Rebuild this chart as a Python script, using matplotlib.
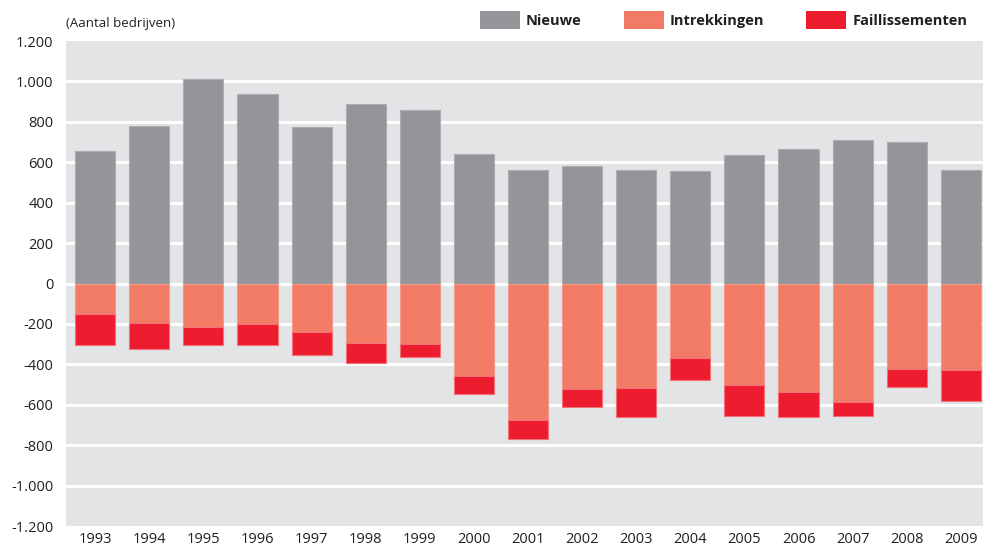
import numpy as np
import matplotlib.pyplot as plt
from matplotlib.patches import Patch

plt.rcParams['font.family'] = ['Open Sans', 'DejaVu Sans']

# ---- Data (aantal bedrijven) ----
years = ["1993", "1994", "1995", "1996", "1997", "1998", "1999", "2000", "2001",
         "2002", "2003", "2004", "2005", "2006", "2007", "2008", "2009"]
nieuwe = [655, 782, 1012, 937, 776, 886, 860, 640, 563,
          580, 563, 558, 637, 665, 708, 702, 562]
intrekkingen = [-152, -196, -216, -202, -241, -294, -300, -457, -675,
                -522, -516, -368, -500, -538, -587, -424, -428]
faillissementen = [-154, -126, -88, -104, -113, -100, -66, -90, -93,
                   -91, -143, -109, -154, -124, -67, -90, -154]

yticks = [-1200, -1000, -800, -600, -400, -200, 0, 200, 400, 600, 800, 1000, 1200]
ytick_labels = ["-1.200", "-1.000", "-800", "-600", "-400", "-200", "0",
                "200", "400", "600", "800", "1.000", "1.200"]

GRAY = "#939598"
SALMON = "#F27B66"
RED = "#ED1C2E"
BG = "#E3E4E6"

fig = plt.figure(figsize=(9.83, 5.48), dpi=100)
ax = fig.add_axes([0.0671, 0.0401, 0.9329, 0.885])
ax.set_facecolor(BG)

x = np.arange(len(years))
w = 0.74
ax.bar(x, nieuwe, w, color=GRAY, edgecolor="#ABADB0", linewidth=0.8, zorder=3)
ax.bar(x, intrekkingen, w, color=SALMON, edgecolor="#F59A8A", linewidth=0.8, zorder=3)
ax.bar(x, faillissementen, w, bottom=intrekkingen, color=RED, edgecolor="#F1707A",
       linewidth=0.8, zorder=3)

ax.set_xlim(-0.54, len(years) - 1 + 0.41)
ax.set_ylim(-1200, 1200)
ax.set_yticks(yticks)
ax.set_yticklabels(ytick_labels)
ax.set_xticks(x)
ax.set_xticklabels(years)
for y in yticks[1:-1]:
    ax.axhline(y, color="white", linewidth=2.2, zorder=1)

for s in ax.spines.values():
    s.set_visible(False)
ax.tick_params(axis="both", length=0, labelsize=10.5, colors="#231F20")
ax.tick_params(axis="y", pad=9)
ax.tick_params(axis="x", pad=4)

fig.text(0.0671, 0.958, "(Aantal bedrijven)", fontsize=9.5, color="#231F20",
         va="center", ha="left")

handles = [Patch(facecolor=GRAY, edgecolor="none", label="Nieuwe"),
           Patch(facecolor=SALMON, edgecolor="none", label="Intrekkingen"),
           Patch(facecolor=RED, edgecolor="none", label="Faillissementen")]
leg = fig.legend(handles=handles, loc="center right", bbox_to_anchor=(0.984, 0.963),
                 ncol=3, frameon=False, prop={"weight": "bold", "size": 10.5},
                 handlelength=2.75, handleheight=1.55, handletextpad=0.4,
                 columnspacing=2.9, borderpad=0, borderaxespad=0)
for t in leg.get_texts():
    t.set_color("#231F20")

fig.savefig("out.png", dpi=100)
